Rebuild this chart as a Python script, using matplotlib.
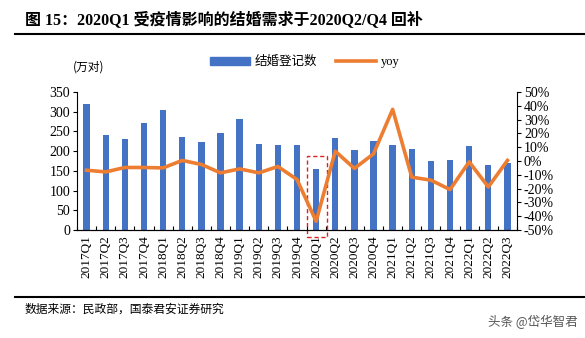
import numpy as np
import matplotlib.pyplot as plt
from matplotlib.patches import Rectangle
from matplotlib.lines import Line2D

plt.rcParams['font.family'] = ['Liberation Serif', 'Noto Sans CJK SC']

# 季度
quarters = ['2017Q1', '2017Q2', '2017Q3', '2017Q4', '2018Q1', '2018Q2', '2018Q3', '2018Q4',
            '2019Q1', '2019Q2', '2019Q3', '2019Q4', '2020Q1', '2020Q2', '2020Q3', '2020Q4',
            '2021Q1', '2021Q2', '2021Q3', '2021Q4', '2022Q1', '2022Q2', '2022Q3']
# 结婚登记数（万对）
marriages = [320, 241, 231, 272, 304, 237, 224, 246, 282, 218, 215, 215,
             155, 234, 203, 225, 215, 206, 175, 178, 212, 164, 170]
# 同比（%）
yoy = [-6.7, -7.9, -4.7, -4.7, -5.0, 0.4, -2.5, -8.6, -5.7, -8.6, -4.0, -13.4,
       -43.7, 7.1, -5.4, 5.2, 37.4, -11.7, -13.9, -20.7, -0.6, -18.8, 0.4]

blue = '#4472C4'
orange = '#ED7D31'

fig = plt.figure(figsize=(5.85, 3.38), dpi=100)
ax = fig.add_axes([77 / 585, 1 - 230 / 338, 440 / 585, 138 / 338])
x = np.arange(len(quarters))
ax.bar(x, marriages, width=0.33, color=blue, zorder=2)
ax.set_xlim(-0.5, len(quarters) - 0.5)
ax.set_ylim(0, 350)
ax.set_yticks(np.arange(0, 351, 50))
ax.set_xticks(x)
ax.set_xticklabels(quarters, rotation=90, fontsize=9.5)
ax.set_xticks(np.arange(-0.5, len(quarters), 1), minor=True)
ax.tick_params(axis='x', which='major', length=0, pad=4)
ax.tick_params(axis='x', which='minor', direction='in', length=3, width=0.8)
ax.tick_params(axis='y', labelsize=10, length=3, width=0.8, pad=2)
ax.spines['top'].set_visible(False)
ax.spines['right'].set_visible(False)

ax2 = ax.twinx()
ax2.plot(x, yoy, color=orange, lw=2.6, zorder=3)
ax2.set_ylim(-50, 50)
ax2.set_yticks(np.arange(-50, 51, 10))
ax2.set_yticklabels([f'{v}%' for v in range(-50, 51, 10)])
ax2.tick_params(axis='y', labelsize=10, length=3, width=0.8, pad=2)
ax2.spines['top'].set_visible(False)
ax2.spines['left'].set_visible(False)

# 2020Q1 红色虚线框
rect = Rectangle((11.5, -18), 1.05, 205, fill=False, edgecolor='#E02020',
                 ls=(0, (3, 2)), lw=1.0, clip_on=False, zorder=5)
ax.add_patch(rect)

fig.text(73 / 585, 1 - 67 / 338, '(万对)', fontsize=8.5, ha='left', va='center',
         family=['Noto Sans CJK SC'])

handles = [Rectangle((0, 0), 1, 1, color=blue), Line2D([0], [0], color=orange, lw=2.6)]
fig.legend(handles, ['结婚登记数', 'yoy'], loc='center', bbox_to_anchor=(305 / 585, 1 - 62 / 338),
           ncol=2, frameon=False, handlelength=3.2, handleheight=0.6,
           columnspacing=1.5, handletextpad=0.4,
           prop={'family': ['Liberation Serif', 'Noto Sans CJK SC'], 'size': 9})

fig.text(25 / 585, 1 - 20 / 338, '图 15：2020Q1 受疫情影响的结婚需求于2020Q2/Q4 回补',
         fontsize=11.5, fontweight='bold', ha='left', va='center')
fig.add_artist(Line2D([15 / 585, 1], [1 - 34 / 338, 1 - 34 / 338], color='black', lw=1.5))
fig.add_artist(Line2D([15 / 585, 1], [1 - 297 / 338, 1 - 297 / 338], color='black', lw=1.5))
fig.text(25 / 585, 1 - 309 / 338, '数据来源：民政部，国泰君安证券研究', fontsize=8.5,
         ha='left', va='center', family=['Noto Sans CJK SC'])
fig.text(578 / 585, 1 - 322 / 338, '头条 @岱华智君', fontsize=9, color='#555555',
         ha='right', va='center', family=['Noto Sans CJK SC'])

fig.savefig('out.png', dpi=100)
